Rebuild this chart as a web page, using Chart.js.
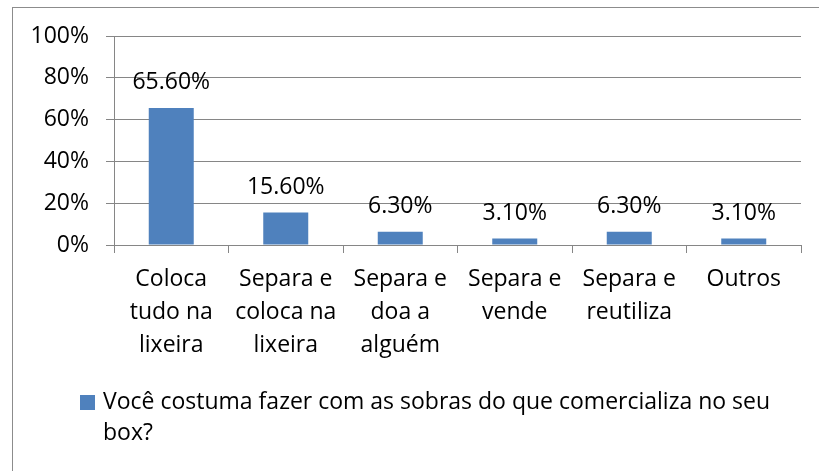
<!DOCTYPE html>
<html>
<head>
<meta charset="utf-8">
<script src="https://cdn.jsdelivr.net/npm/chart.js@4"></script>
<style>
  body { margin: 0; background: #fff; }
  #wrap { position: relative; width: 819px; height: 471px; overflow: hidden; }
  #frame { position: absolute; left: 12px; top: 7px; width: 900px; height: 600px; border: 1px solid #8c8c8c; }
  #chart { position: absolute; left: 0; top: 0; }
</style>
</head>
<body>
<div id="wrap">
  <div id="frame"></div>
  <canvas id="chart" width="819" height="471"></canvas>
</div>
<script>
const categories = [
  ['Coloca', 'tudo na', 'lixeira'],
  ['Separa e', 'coloca na', 'lixeira'],
  ['Separa e', 'doa a', 'alguém'],
  ['Separa e', 'vende'],
  ['Separa e', 'reutiliza'],
  ['Outros']
];
const values = [65.6, 15.6, 6.3, 3.1, 6.3, 3.1];
const yTicks = [0, 20, 40, 60, 80, 100];
const seriesName = 'Você costuma fazer com as sobras do que comercializa no seu box?';

const barColor = '#4f81bd';
const gridColor = '#868686';
const fontFamily = '"Open Sans", Lato, sans-serif';
const fontSize = 23;

// value labels above each bar
const valueLabels = {
  id: 'valueLabels',
  afterDatasetsDraw(chart) {
    const ctx = chart.ctx;
    const meta = chart.getDatasetMeta(0);
    ctx.save();
    ctx.font = fontSize + 'px ' + fontFamily;
    ctx.fillStyle = '#000';
    ctx.textAlign = 'center';
    ctx.textBaseline = 'middle';
    meta.data.forEach((bar, i) => {
      ctx.fillText(values[i].toFixed(2) + '%', bar.x, bar.y - 25);
    });
    ctx.restore();
  }
};

// legend under the axis, wrapped onto two lines
const wrappedLegend = {
  id: 'wrappedLegend',
  afterDraw(chart) {
    const ctx = chart.ctx;
    ctx.save();
    ctx.font = fontSize + 'px ' + fontFamily;
    ctx.fillStyle = barColor;
    ctx.fillRect(80, 395, 15, 15);
    ctx.fillStyle = '#000';
    ctx.textBaseline = 'middle';
    const words = chart.data.datasets[0].label.split(' ');
    let lines = [], line = '';
    words.forEach(w => {
      const t = line ? line + ' ' + w : w;
      if (ctx.measureText(t).width > 695 && line) { lines.push(line); line = w; }
      else line = t;
    });
    lines.push(line);
    lines.forEach((l, i) => ctx.fillText(l, 103, 402 + i * 31));
    ctx.restore();
  }
};

new Chart(document.getElementById('chart'), {
  type: 'bar',
  data: {
    labels: categories,
    datasets: [{
      label: seriesName,
      data: values,
      backgroundColor: barColor,
      barPercentage: 0.393,
      categoryPercentage: 1
    }]
  },
  options: {
    responsive: false,
    animation: false,
    layout: { padding: { top: 36, right: 18, bottom: 0, left: 0 } },
    plugins: { legend: { display: false }, tooltip: { enabled: false } },
    scales: {
      x: {
        afterFit(s) { s.height = 226; },
        grid: { offset: true, drawOnChartArea: false, color: gridColor, tickLength: 8 },
        border: { color: gridColor },
        ticks: { color: '#000', padding: 10, maxRotation: 0, autoSkip: false,
                 font: { family: fontFamily, size: fontSize, lineHeight: 1.43 } }
      },
      y: {
        min: 0, max: 100,
        afterFit(s) { s.width = 114; },
        afterBuildTicks(s) { s.ticks = yTicks.map(v => ({ value: v })); },
        grid: { color: gridColor, tickLength: 8 },
        border: { color: gridColor },
        ticks: { color: '#000', padding: 17, callback: v => v + '%',
                 font: { family: fontFamily, size: fontSize } }
      }
    }
  },
  plugins: [valueLabels, wrappedLegend]
});
</script>
</body>
</html>
